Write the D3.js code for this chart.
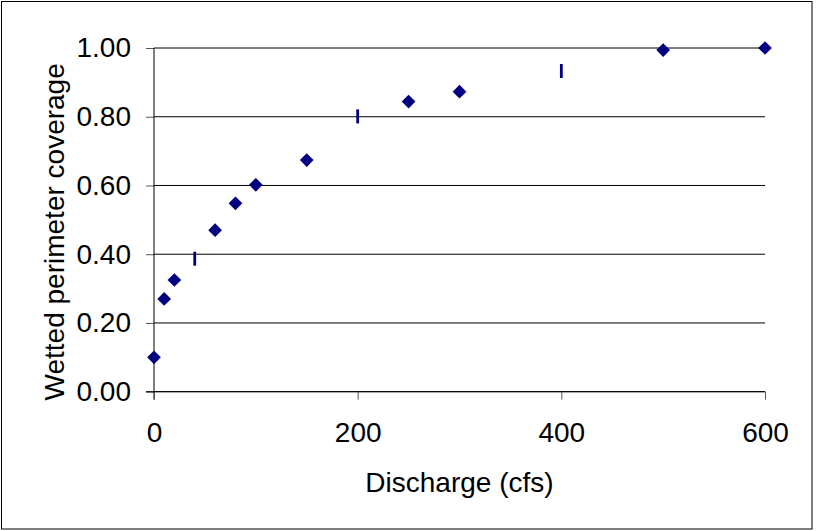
<!DOCTYPE html>
<html>
<head>
<meta charset="utf-8">
<script src="https://cdn.jsdelivr.net/npm/d3@7"></script>
<style>
  html, body { margin: 0; padding: 0; background: #fff; }
  svg { display: block; font-family: "Liberation Sans", Arial, sans-serif; }
</style>
</head>
<body>
<svg id="chart" width="817" height="531"></svg>
<script>
// ---- data ----
const discharge = [0, 10, 20, 40, 60, 80, 100, 150, 200, 250, 300, 400, 500, 600];
const coverage  = [0.10, 0.27, 0.325, 0.387, 0.47, 0.548, 0.602, 0.674, 0.801, 0.844, 0.873, 0.933, 0.994, 1.00];
const barMarkerAt = [40, 200, 400];          // points drawn with a thin vertical-bar marker
const xTicks = [0, 200, 400, 600];
const yTicks = [0, 0.2, 0.4, 0.6, 0.8, 1.0];
const xTitle = "Discharge (cfs)";
const yTitle = "Wetted perimeter coverage";

(function () {
// ---- layout ----
const svg = d3.select("#chart");
const pL = 154, pR = 765, pT = 48, pB = 391.7;
const x = d3.scaleLinear().domain([0, 600]).range([pL, pR]);
const y = d3.scaleLinear().domain([0, 1]).range([pB, pT]);
const fontSize = 28;
const markColor = "#000080";

// outer border
svg.append("rect")
  .attr("x", 1.5).attr("y", 1.5).attr("width", 810.5).attr("height", 527.5)
  .attr("fill", "none").attr("stroke", "#000").attr("stroke-width", 1);

// gridlines
svg.append("g").selectAll("line").data(yTicks).join("line")
  .attr("x1", pL).attr("x2", pR)
  .attr("y1", d => y(d)).attr("y2", d => y(d))
  .attr("stroke", "#000").attr("stroke-width", 1);

// y axis
const yAxis = svg.append("g").attr("transform", `translate(${pL},0)`)
  .call(d3.axisLeft(y).tickValues(yTicks).tickFormat(d3.format(".2f")).tickSize(8).tickPadding(15));
yAxis.select(".domain").remove();
svg.append("line").attr("x1", pL).attr("x2", pL).attr("y1", pT).attr("y2", pB + 8)
  .attr("stroke", "#000").attr("stroke-width", 1);

// x axis
const xAxis = svg.append("g").attr("transform", `translate(0,${pB})`)
  .call(d3.axisBottom(x).tickValues(xTicks).tickFormat(d3.format("d")).tickSize(8).tickPadding(22));
xAxis.select(".domain").remove();
svg.append("line").attr("x1", pL - 8).attr("x2", pR).attr("y1", pB).attr("y2", pB)
  .attr("stroke", "#000").attr("stroke-width", 1);

[yAxis, xAxis].forEach(a => {
  a.selectAll(".tick line").attr("stroke", "#555");
  a.selectAll("text").attr("font-size", fontSize).attr("fill", "#000")
    .attr("font-family", "Liberation Sans, Arial, sans-serif");
});

// titles
svg.append("text")
  .attr("x", (pL + pR) / 2).attr("y", 492)
  .attr("text-anchor", "middle").attr("font-size", fontSize).attr("fill", "#000")
  .text(xTitle);
svg.append("text")
  .attr("transform", `translate(64,${(pT + pB) / 2 + 12}) rotate(-90)`)
  .attr("text-anchor", "middle").attr("font-size", fontSize).attr("fill", "#000")
  .text(yTitle);

// markers
const pts = discharge.map((d, i) => ({ q: d, c: coverage[i], bar: barMarkerAt.includes(d) }));
const diamond = d3.symbol().type(d3.symbolDiamond2).size(120);
svg.append("g").selectAll("path").data(pts.filter(p => !p.bar)).join("path")
  .attr("transform", p => `translate(${x(p.q)},${y(p.c)})`)
  .attr("d", diamond)
  .attr("fill", markColor);
svg.append("g").selectAll("rect").data(pts.filter(p => p.bar)).join("rect")
  .attr("x", p => x(p.q) - 1.4).attr("y", p => y(p.c) - 7)
  .attr("width", 2.8).attr("height", 14)
  .attr("fill", markColor);
})();
</script>
</body>
</html>
